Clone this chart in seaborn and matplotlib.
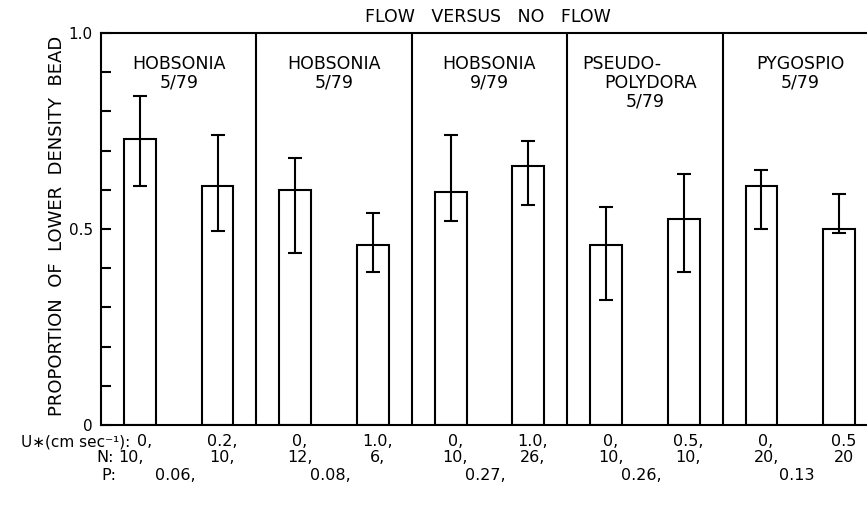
import matplotlib
matplotlib.use("Agg")
import matplotlib.pyplot as plt
import matplotlib.transforms as mtransforms
import numpy as np
import pandas as pd
import seaborn as sns

# ---- data -------------------------------------------------------------
panel_lines = [
    ["HOBSONIA", "5/79"],
    ["HOBSONIA", "5/79"],
    ["HOBSONIA", "9/79"],
    ["PSEUDO-", "POLYDORA", "5/79"],
    ["PYGOSPIO", "5/79"],
]
proportion = [0.73, 0.61, 0.60, 0.46, 0.595, 0.66, 0.458, 0.525, 0.61, 0.50]
err_low = [0.61, 0.495, 0.44, 0.39, 0.52, 0.56, 0.32, 0.39, 0.50, 0.49]
err_high = [0.84, 0.74, 0.68, 0.54, 0.74, 0.725, 0.555, 0.64, 0.65, 0.59]
u_star = ["0,", "0.2,", "0,", "1.0,", "0,", "1.0,", "0,", "0.5,", "0,", "0.5"]
n_obs = ["10,", "10,", "12,", "6,", "10,", "26,", "10,", "10,", "20,", "20"]
p_val = ["0.06,", "0.08,", "0.27,", "0.26,", "0.13"]

# ---- style ------------------------------------------------------------
sns.set_theme(style="white")
plt.rcParams["font.family"] = ["DejaVu Sans"]
plt.rcParams["text.color"] = "black"

W, H = 867, 508
fig = plt.figure(figsize=(W / 100, H / 100), dpi=100)
ax = fig.add_axes([101 / W, 83 / H, 777 / W, 392 / H])

lw = 1.5
df = pd.DataFrame({"bar": [str(i) for i in range(len(proportion))],
                   "value": proportion})
sns.barplot(data=df, x="bar", y="value", color="white", edgecolor="black",
            linewidth=lw, width=0.41, errorbar=None, ax=ax, saturation=1)
for p in ax.patches:
    p.set_facecolor("white")
    p.set_edgecolor("black")

vals = np.array(proportion)
yerr = [vals - np.array(err_low), np.array(err_high) - vals]
ax.errorbar(np.arange(len(vals)), vals, yerr=yerr, fmt="none",
            ecolor="black", elinewidth=lw, capsize=5, capthick=lw, zorder=5)

# panel separators
for xs in np.arange(1.5, len(vals) - 1, 2):
    ax.axvline(xs, color="black", lw=lw, zorder=4)

ax.set_xlim(-0.5, 9.5)
ax.set_ylim(0, 1.0)
ax.set_xticks([])
ax.set_xlabel("")
ax.set_ylabel("")
ax.set_yticks([0, 0.5, 1.0])
ax.set_yticklabels(["0", "0.5", "1.0"], fontsize=11)
ax.set_yticks(np.arange(0.1, 1.0, 0.1), minor=True)
ax.tick_params(axis="y", which="both", direction="in", length=7, width=lw,
               left=True, right=True, pad=6, colors="black")
for side in ["left", "top", "bottom", "right"]:
    ax.spines[side].set_color("black")
    ax.spines[side].set_linewidth(lw)

tr = mtransforms.blended_transform_factory(ax.transData, fig.transFigure)

# panel headings
line_y = [64, 83, 102]
heading_dx = {3: [-0.3, 0.07, 0.0]}
for k, lines in enumerate(panel_lines):
    cx = 2 * k + 0.5
    offs = heading_dx.get(k, [0.0] * len(lines))
    for j, s in enumerate(lines):
        ax.text(cx + offs[j], 1 - line_y[j] / H, s, fontsize=12.5,
                ha="center", va="center", transform=tr)

# title and axis label
fig.text(488 / W, 1 - 17 / H, "FLOW   VERSUS   NO   FLOW", fontsize=12.5,
         ha="center", va="center")
fig.text(57 / W, 1 - 226 / H, "PROPORTION  OF  LOWER  DENSITY  BEAD",
         fontsize=13, rotation=90, ha="center", va="center")

# rows of condition labels under the bars
row_y = [442, 458, 475]
fs = 11.5
fig.text(130 / W, 1 - row_y[0] / H, "U\u2217(cm sec\u207b\u00b9):", fontsize=11,
         ha="right", va="center")
fig.text(114 / W, 1 - row_y[1] / H, "N:", fontsize=fs, ha="right", va="center")
fig.text(116 / W, 1 - row_y[2] / H, "P:", fontsize=fs, ha="right", va="center")
for i, s in enumerate(u_star):
    ax.text(i + 0.06, 1 - row_y[0] / H, s, fontsize=fs, ha="center",
            va="center", transform=tr)
for i, s in enumerate(n_obs):
    dx = -0.12 if i == 0 else 0.06
    ax.text(i + dx, 1 - row_y[1] / H, s, fontsize=fs, ha="center",
            va="center", transform=tr)
for k, s in enumerate(p_val):
    ax.text(2 * k + 0.45, 1 - row_y[2] / H, s, fontsize=fs, ha="center",
            va="center", transform=tr)

fig.savefig("out.png", dpi=100)
